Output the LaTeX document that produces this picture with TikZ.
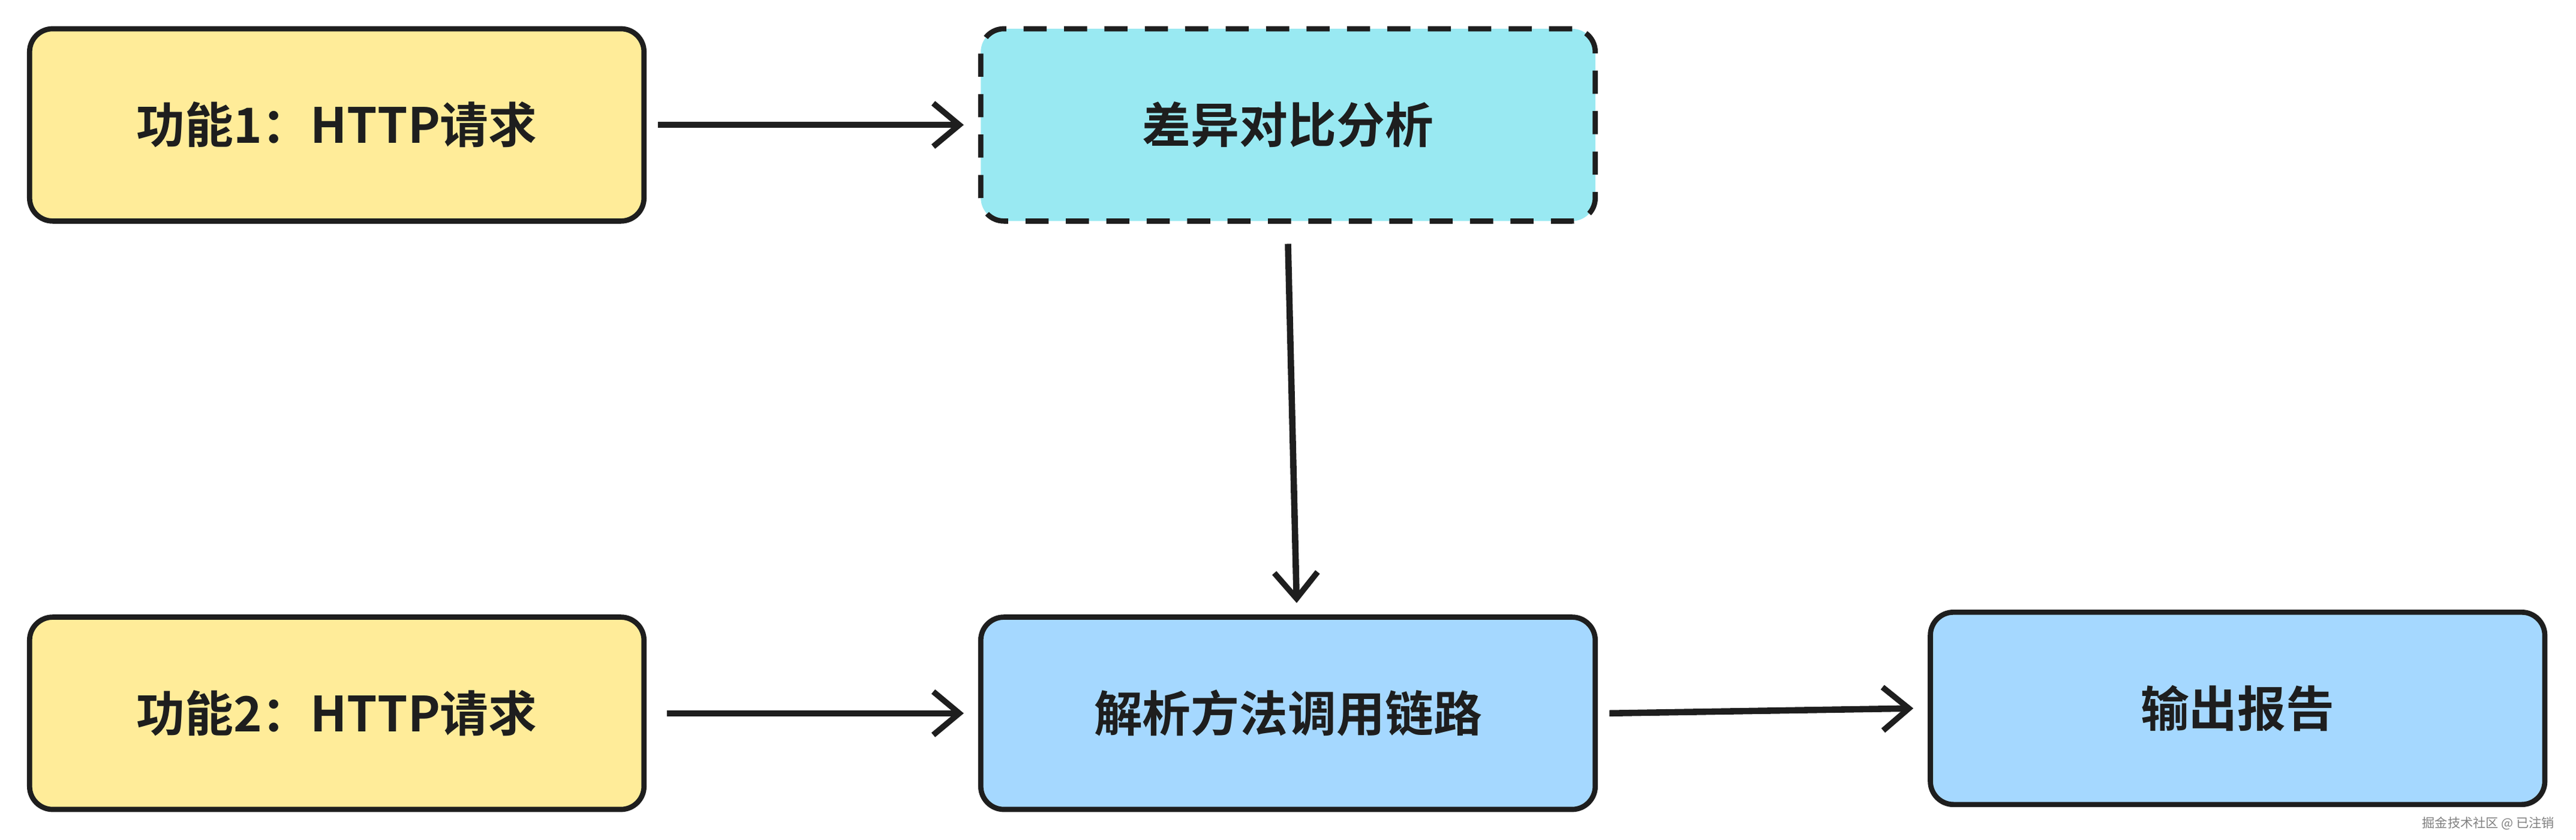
\documentclass[tikz,border=0pt]{standalone}
\usepackage{fontspec}
\newfontfamily\cjk{Noto Sans CJK SC}[BoldFont=* Bold]
\usetikzlibrary{arrows.meta}
\definecolor{yel}{HTML}{FFEC99}
\definecolor{cya}{HTML}{99E9F2}
\definecolor{blu}{HTML}{A5D8FF}
\definecolor{ink}{HTML}{1E1E1E}
\begin{document}
\begin{tikzpicture}[x=1mm,y=-1mm,
  box/.style={draw=ink,line width=9pt,rounded corners=40pt,minimum width=374mm,minimum height=117mm,font=\cjk\bfseries\fontsize{84}{96}\selectfont,text=ink},
  arr/.style={draw=ink,line width=11pt,-{Straight Barb[length=45pt,width=75pt,line width=10pt]}}]
\useasboundingbox[fill=white] (0,0) rectangle (1568,511);
\node[box,fill=yel] (a) at (205,76) {功能1：HTTP请求};
\node[box,fill=cya,dash pattern=on 40pt off 30pt] (b) at (784,76) {差异对比分析};
\node[box,fill=yel] (c) at (205,434) {功能2：HTTP请求};
\node[box,fill=blu] (d) at (784,434) {解析方法调用链路};
\node[box,fill=blu] (e) at (1362,431) {输出报告};
\draw[arr] ([xshift=20pt]a.east) -- ([xshift=-25pt]b.west);
\draw[arr] ([yshift=-35pt]b.south) -- ([yshift=20pt,xshift=15pt]d.north);
\draw[arr] ([xshift=35pt]c.east) -- ([xshift=-25pt]d.west);
\draw[arr] ([xshift=20pt]d.east) -- ([xshift=-25pt]e.west);
\node[font=\cjk\fontsize{22}{26}\selectfont,text=gray,anchor=east] (w) at (1556,501) {掘金技术社区 @ 已注销};
\end{tikzpicture}
\end{document}
